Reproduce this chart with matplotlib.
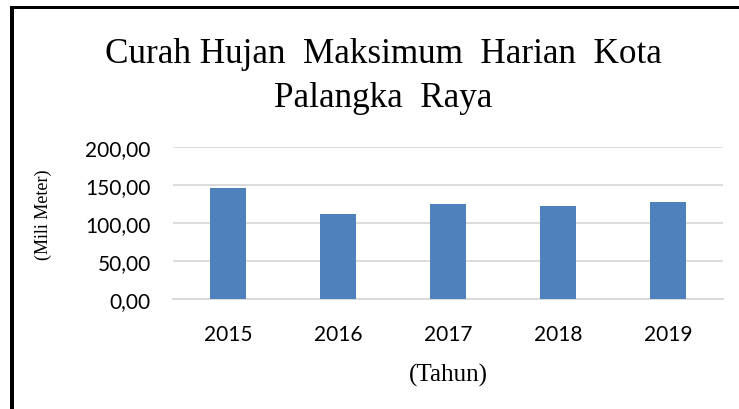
import matplotlib
matplotlib.use("Agg")
import matplotlib.pyplot as plt
from matplotlib.patches import Rectangle

years = ["2015", "2016", "2017", "2018", "2019"]
rainfall = [145.7, 111.4, 124.6, 122.0, 127.2]
yticks = [0, 50, 100, 150, 200]
ytick_labels = ["0,00", "50,00", "100,00", "150,00", "200,00"]
title_lines = ["Curah Hujan  Maksimum  Harian  Kota", "Palangka  Raya"]
xlabel = "(Tahun)"
ylabel = "(Mili Meter)"

W, H = 739, 410
fig = plt.figure(figsize=(W / 100, H / 100), dpi=100)
fig.patch.set_facecolor("white")

def fx(px):
    return px / W

def fy(py):
    return 1 - py / H

ax = fig.add_axes([fx(173), fy(300), fx(723) - fx(173), (300 - 147.7) / H])
x = list(range(len(years)))
ax.bar(x, rainfall, width=0.33, color="#4F81BD", zorder=3)
ax.set_xlim(-0.5, len(years) - 0.5)
ax.set_ylim(0, 200)
ax.set_yticks(yticks)
ax.set_yticklabels(ytick_labels, fontfamily="Lato", fontsize=15, color="#000000")
ax.set_xticks(x)
ax.set_xticklabels(years, fontfamily="Lato", fontsize=15, color="#000000")
ax.tick_params(axis="both", length=0)
ax.tick_params(axis="y", pad=16)
ax.tick_params(axis="x", pad=18)
ax.grid(axis="y", color="#D9D9D9", linewidth=1.3, zorder=0)
ax.set_axisbelow(True)
for s in ["top", "right", "left"]:
    ax.spines[s].set_visible(False)
ax.spines["bottom"].set_color("#D9D9D9")
ax.spines["bottom"].set_linewidth(1.3)

serif = ["Liberation Serif", "DejaVu Serif"]
fig.text(fx(383), fy(63), title_lines[0], fontfamily=serif, fontsize=25.3,
         ha="center", va="baseline")
fig.text(fx(383), fy(107), title_lines[1], fontfamily=serif, fontsize=25.3,
         ha="center", va="baseline")
fig.text(fx(448), fy(375), xlabel, fontfamily=serif, fontsize=18,
         ha="center", va="center")
fig.text(fx(43), fy(215), ylabel, fontfamily=serif, fontsize=13,
         ha="center", va="center", rotation=90)

# partial frame (left and top black border)
fig.add_artist(Rectangle((fx(10), 0), fx(4), fy(7), transform=fig.transFigure,
                         color="black", lw=0))
fig.add_artist(Rectangle((fx(10), fy(9.5)), 1 - fx(10), 2.5 / H,
                         transform=fig.transFigure, color="black", lw=0))

fig.savefig("out.png", dpi=100)
